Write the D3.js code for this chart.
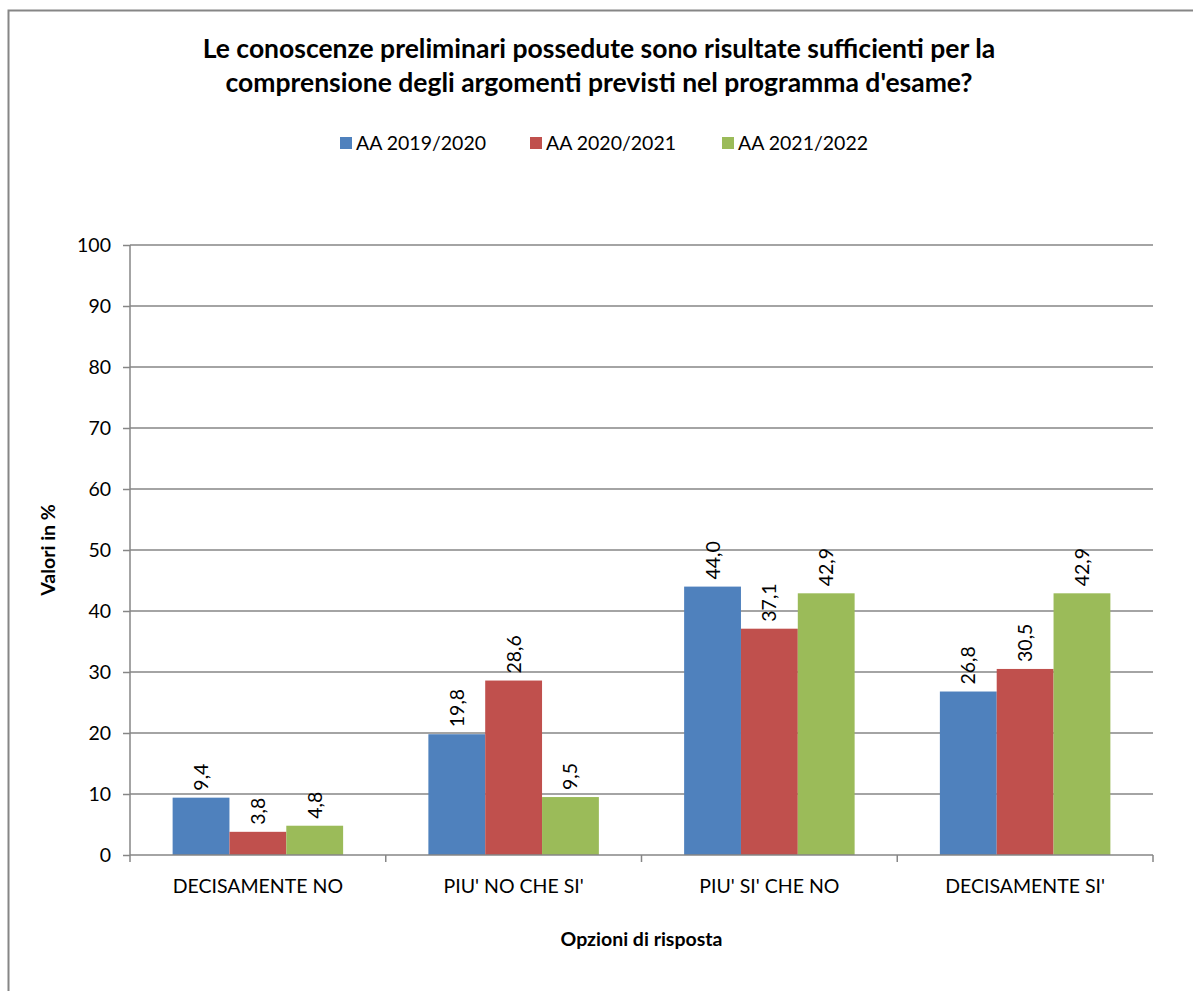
<!DOCTYPE html>
<html>
<head>
<meta charset="utf-8">
<script src="https://cdn.jsdelivr.net/npm/d3@7"></script>
<style>
  body { margin: 0; background: #fff; }
  svg { display: block; font-family: Lato, "Liberation Sans", sans-serif; }
</style>
</head>
<body>
<script>
var titleLines = ["Le conoscenze preliminari possedute sono risultate sufficienti per la",
                  "comprensione degli argomenti previsti nel programma d'esame?"];
var categories = ["DECISAMENTE NO", "PIU' NO CHE SI'", "PIU' SI' CHE NO", "DECISAMENTE SI'"];
var seriesNames = ["AA 2019/2020", "AA 2020/2021", "AA 2021/2022"];
var values2019 = [9.4, 19.8, 44.0, 26.8];
var values2020 = [3.8, 28.6, 37.1, 30.5];
var values2021 = [4.8, 9.5, 42.9, 42.9];
var colors = ["#4F81BD", "#C0504D", "#9BBB59"];
var yTicks = [0, 10, 20, 30, 40, 50, 60, 70, 80, 90, 100];

var allSeries = [values2019, values2020, values2021];
var W = 1193, H = 991;
var margin = {top: 245, right: 40, bottom: 136, left: 130};
var plotW = W - margin.left - margin.right;
var plotH = H - margin.top - margin.bottom;
var grey = "#868686";
var fs = "19.5px";

var svg = d3.select("body").append("svg")
    .attr("width", W)
    .attr("height", H);

// outer chart border
svg.append("rect")
    .attr("x", 8.5).attr("y", 10.5)
    .attr("width", W + 20).attr("height", H + 20)
    .attr("fill", "none").attr("stroke", grey).attr("stroke-width", 2);

// title
svg.append("text")
    .attr("x", 599).attr("y", 58)
    .attr("text-anchor", "middle")
    .style("font-size", "26.5px").style("font-weight", "bold")
    .selectAll("tspan").data(titleLines).enter().append("tspan")
    .attr("x", 599).attr("dy", function(d, i) { return i ? 34 : 0; })
    .text(function(d) { return d; });

// legend
var legendX = [340, 530, 722];
var legend = svg.selectAll(".legend")
    .data(seriesNames).enter().append("g")
    .attr("transform", function(d, i) { return "translate(" + legendX[i] + ",143)"; });
legend.append("rect")
    .attr("x", 0).attr("y", -6).attr("width", 12).attr("height", 12)
    .attr("fill", function(d, i) { return colors[i]; });
legend.append("text")
    .attr("x", 16).attr("y", 7)
    .style("font-size", fs)
    .text(function(d) { return d; });

var g = svg.append("g")
    .attr("transform", "translate(" + margin.left + "," + margin.top + ")");

// Excel style: gap width 150% -> group = band - 1.5 bar widths
var band = plotW / categories.length;
var barW = band / 4.5;

var y = d3.scaleLinear().domain([0, 100]).range([plotH, 0]);

// gridlines
g.selectAll(".grid")
    .data(yTicks.slice(1)).enter().append("line")
    .attr("x1", 0).attr("x2", plotW)
    .attr("y1", function(d) { return y(d); })
    .attr("y2", function(d) { return y(d); })
    .attr("stroke", grey).attr("stroke-width", 1.5);

// y axis
var yAxis = g.append("g")
    .call(d3.axisLeft(y).tickValues(yTicks).tickSize(7).tickPadding(12));
yAxis.select(".domain").remove();
yAxis.selectAll("line").attr("stroke", grey).attr("stroke-width", 1.5);
yAxis.selectAll("text").style("font-size", fs).style("font-family", "Lato, sans-serif").attr("fill", "#000");
g.append("line")
    .attr("x1", 0).attr("x2", 0).attr("y1", 0).attr("y2", plotH)
    .attr("stroke", grey).attr("stroke-width", 1.5);

// bars
var groups = g.selectAll(".cat")
    .data(categories).enter().append("g")
    .attr("transform", function(d, i) { return "translate(" + (i * band + 0.75 * barW) + ",0)"; });

allSeries.forEach(function(vals, s) {
    groups.append("rect")
        .attr("x", s * barW)
        .attr("y", function(d, i) { return y(vals[i]); })
        .attr("width", barW)
        .attr("height", function(d, i) { return plotH - y(vals[i]); })
        .attr("fill", colors[s]);
    groups.append("text")
        .attr("transform", function(d, i) {
            return "translate(" + (s * barW + barW / 2 + 7) + "," + (y(vals[i]) - 7) + ") rotate(-90)";
        })
        .style("font-size", fs)
        .text(function(d, i) { return d3.format(".1f")(vals[i]).replace(".", ","); });
});

// x axis line and ticks
g.append("line")
    .attr("x1", 0).attr("x2", plotW).attr("y1", plotH).attr("y2", plotH)
    .attr("stroke", grey).attr("stroke-width", 1.5);
g.selectAll(".xtick")
    .data(d3.range(categories.length + 1)).enter().append("line")
    .attr("x1", function(d) { return d * band; })
    .attr("x2", function(d) { return d * band; })
    .attr("y1", plotH).attr("y2", plotH + 7)
    .attr("stroke", grey).attr("stroke-width", 1.5);
g.selectAll(".xlabel")
    .data(categories).enter().append("text")
    .attr("x", function(d, i) { return i * band + band / 2; })
    .attr("y", plotH + 38)
    .attr("text-anchor", "middle")
    .style("font-size", fs)
    .text(function(d) { return d; });

// axis titles
svg.append("text")
    .attr("x", margin.left + plotW / 2).attr("y", 946)
    .attr("text-anchor", "middle")
    .style("font-size", fs).style("font-weight", "bold")
    .text("Opzioni di risposta");
svg.append("text")
    .attr("transform", "translate(55," + (margin.top + plotH / 2) + ") rotate(-90)")
    .attr("text-anchor", "middle")
    .style("font-size", fs).style("font-weight", "bold")
    .text("Valori in %");
</script>
</body>
</html>
